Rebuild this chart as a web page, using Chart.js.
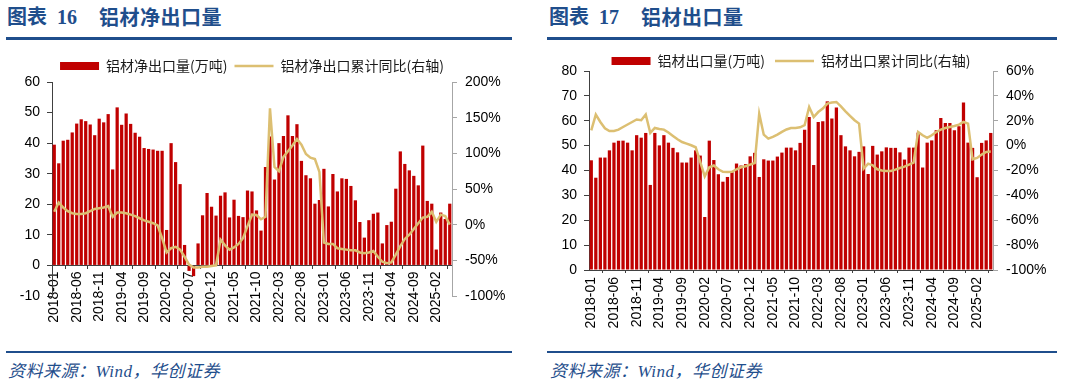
<!DOCTYPE html>
<html lang="zh-CN">
<head>
<meta charset="utf-8">
<title>铝材净出口量 / 铝材出口量</title>
<script src="https://cdn.jsdelivr.net/npm/chart.js@4.4.1/dist/chart.umd.min.js"></script>
<style>
  html, body { margin: 0; padding: 0; background: #fff; }
  body { position: relative; width: 1066px; height: 387px; overflow: hidden; }
  .title { position: absolute; top: 5px; height: 24px; font: bold 20px/24px "Liberation Serif", "Noto Sans CJK SC", serif; color: #1F4E8C; white-space: nowrap; }
  .title .name { position: absolute; left: 92px; top: 0; font-family: "Noto Sans CJK SC", sans-serif; letter-spacing: 0.5px; }
  .rule { position: absolute; background: #1F4E8C; }
  .source { position: absolute; top: 362px; font: italic 17px/20px "Liberation Serif", "Noto Sans CJK SC", serif; color: #1F4E8C; letter-spacing: 0.5px; white-space: nowrap; }
  canvas { position: absolute; top: 40px; }
</style>
</head>
<body>

<div class="title" style="left:7px">图表&nbsp;&nbsp;16<span class="name">铝材净出口量</span></div>
<div class="rule" style="left:6px; width:506px; top:37px; height:3px"></div>
<canvas id="netChart" width="533" height="300" style="left:0"></canvas>
<div class="rule" style="left:6px; width:506px; top:351px; height:2px"></div>
<div class="source" style="left:8px">资料来源：Wind，华创证券</div>

<div class="title" style="left:549px">图表&nbsp;&nbsp;17<span class="name">铝材出口量</span></div>
<div class="rule" style="left:547px; width:510px; top:37px; height:3px"></div>
<canvas id="exportChart" width="533" height="290" style="left:533px"></canvas>
<div class="rule" style="left:547px; width:510px; top:351px; height:2px"></div>
<div class="source" style="left:550px">资料来源：Wind，华创证券</div>

<script>
// Month categories (2018-01 .. 2025-05)
const months = [
  '2018-01','2018-02','2018-03','2018-04','2018-05','2018-06','2018-07','2018-08','2018-09','2018-10','2018-11','2018-12',
  '2019-01','2019-02','2019-03','2019-04','2019-05','2019-06','2019-07','2019-08','2019-09','2019-10','2019-11','2019-12',
  '2020-01','2020-02','2020-03','2020-04','2020-05','2020-06','2020-07','2020-08','2020-09','2020-10','2020-11','2020-12',
  '2021-01','2021-02','2021-03','2021-04','2021-05','2021-06','2021-07','2021-08','2021-09','2021-10','2021-11','2021-12',
  '2022-01','2022-02','2022-03','2022-04','2022-05','2022-06','2022-07','2022-08','2022-09','2022-10','2022-11','2022-12',
  '2023-01','2023-02','2023-03','2023-04','2023-05','2023-06','2023-07','2023-08','2023-09','2023-10','2023-11','2023-12',
  '2024-01','2024-02','2024-03','2024-04','2024-05','2024-06','2024-07','2024-08','2024-09','2024-10','2024-11','2024-12',
  '2025-01','2025-02','2025-03','2025-04','2025-05'
];

// Only these month labels are printed on the x axis
const shownTicks = [
  '2018-01','2018-06','2018-11','2019-04','2019-09','2020-02','2020-07','2020-12','2021-05',
  '2021-10','2022-03','2022-08','2023-01','2023-06','2023-11','2024-04','2024-09','2025-02'
];

// Chart 16: net exports of aluminium products (10k t) and cumulative YoY (%)
const netExport = [
  39.5, 33.4, 40.8, 41.1, 43.5, 46.4, 47.8, 47.2, 46.1, 42.6, 48.0, 46.8,
  49.5, 31.4, 51.7, 46.0, 49.7, 46.3, 43.4, 42.1, 38.4, 38.1, 37.9, 37.5,
  37.5, 11.6, 40.0, 33.8, 26.6, 6.7, -1.8, -3.5, 7.2, 16.4, 23.7, 19.2,
  16.3, 22.8, 23.9, 15.7, 21.5, 16.2, 15.8, 24.5, 24.2, 18.0, 11.4, 32.2,
  42.2, 28.1, 40.0, 42.3, 49.1, 42.3, 46.2, 34.2, 29.5, 28.5, 20.2, 21.4,
  31.6, 19.3, 29.9, 24.2, 28.5, 28.3, 26.0, 21.3, 14.2, 9.1, 14.8, 16.9,
  17.3, 7.2, 13.2, 14.3, 25.1, 37.3, 33.2, 31.1, 29.3, 26.2, 39.2, 21.1,
  20.2, 5.2, 17.3, 15.2, 20.2
];
const netExportYoY = [
  18, 31, 24, 19, 16, 15, 15, 16, 19, 22, 23, 24,
  26, 11, 17, 17, 16, 14, 12, 9, 6, 4, 2, -1,
  -19, -39, -33, -31, -35, -45, -56, -60, -60, -59, -59, -58,
  -57, -21, -29, -35, -32, -27, -19, -2, 14, 13.5, 7.5, 11,
  163, 81, 75, 95, 103, 111, 120, 112, 99, 94, 92, 74,
  -25, -27, -27, -33, -34, -35, -36, -36, -39, -40, -39, -37,
  -45, -52, -54, -53, -42, -30, -20, -14, -6, 2, 10, 11,
  18, 4, 14, 12, 0
];
const netLeftTicks = [-10, 0, 10, 20, 30, 40, 50, 60];
const netRightTicks = [-100, -50, 0, 50, 100, 150, 200];

// Chart 17: exports of aluminium products (10k t) and cumulative YoY (%)
const exportVol = [
  44.1, 37.1, 45.2, 45.2, 48.1, 51.2, 52.0, 52.0, 51.2, 48.1, 54.2, 53.2,
  55.1, 34.2, 55.1, 50.1, 54.2, 51.2, 49.1, 47.3, 43.2, 43.2, 45.2, 48.1,
  46.0, 21.3, 52.0, 44.2, 38.5, 35.5, 37.4, 39.3, 42.8, 42.0, 42.6, 45.7,
  47.1, 37.4, 44.5, 44.0, 44.0, 45.6, 47.2, 49.2, 49.2, 48.1, 51.1, 56.4,
  61.5, 42.2, 59.5, 59.8, 67.8, 60.9, 65.3, 54.2, 49.7, 48.1, 45.7, 47.5,
  49.7, 38.6, 49.9, 46.4, 47.7, 49.3, 49.1, 49.1, 47.3, 44.4, 49.2, 49.2,
  55.2, 41.2, 51.2, 52.1, 56.2, 61.1, 59.1, 59.1, 56.2, 57.8, 67.3, 51.2,
  49.1, 37.3, 51.1, 52.1, 55.1
];
const exportYoY = [
  12.3, 25, 19, 14, 11.8, 11.8, 12.9, 15, 17, 19, 21, 20.4,
  25, 10.2, 14.2, 13.4, 12.9, 10.5, 7.8, 5.1, 2.9, 1.6, 0.3, -1.3,
  -13, -24.7, -17.4, -16, -19, -21, -21.2, -21, -19, -17.4, -16.6, -15.3,
  -14, 25.7, 8.8, 5.6, 7, 8.8, 11, 13, 14.2, 14.2, 14.7, 16.4,
  31.1, 23, 27, 29.8, 33.8, 34.6, 35.1, 31.6, 27.6, 23.9, 20.4, 17.7,
  -18.5, -14.5, -15.8, -19, -20, -20.4, -20.4, -19.3, -18, -16.9, -15.3, -13.7,
  11, 8.3, 6.2, 8.3, 11, 12.9, 14.2, 15, 15.8, 16.9, 19, 17.7,
  -11, -9.9, -7.2, -5.1, -4.8
];
const exportLeftTicks = [0, 10, 20, 30, 40, 50, 60, 70, 80];
const exportRightTicks = [-100, -80, -60, -40, -20, 0, 20, 40, 60];

const RED = '#C00000';
const GOLD = '#DCBF72';
const AXIS_DARK = '#404040';
const AXIS_GREY = '#A6A6A6';

Chart.defaults.font.family = 'Liberation Sans';
Chart.defaults.color = '#000';

const tickFont = { family: 'Liberation Sans', size: 14 };

/**
 * Build a value axis from a list of tick values
 */
function valueAxis(ticks, side, width, color, suffix) {
  return {
    position: side,
    min: ticks[0],
    max: ticks[ticks.length - 1],
    border: { color: color, width: 1 },
    grid: { drawOnChartArea: false, drawTicks: true, tickLength: 5, color: color },
    ticks: {
      stepSize: ticks[1] - ticks[0],
      padding: side === 'left' ? 7 : 8,
      color: '#000',
      font: tickFont,
      callback: (v) => v + suffix
    },
    afterFit: (scale) => {
      scale.width = width;
      scale.paddingTop = 0;
      scale.paddingBottom = 0;
    }
  };
}

/**
 * Month axis: every month gets a slot, only every fifth month is labelled
 */
function monthAxis(position, tickPadding, fixedHeight) {
  const axis = {
    type: 'category',
    position: position,
    offset: true,
    border: { color: AXIS_DARK, width: 1 },
    grid: { offset: true, drawOnChartArea: false, drawTicks: true, tickLength: 3, color: AXIS_DARK },
    ticks: {
      autoSkip: false,
      minRotation: 90,
      maxRotation: 90,
      padding: tickPadding,
      color: '#000',
      font: tickFont,
      callback: function(value) {
        const label = this.getLabelForValue(value);
        return shownTicks.includes(label) ? label : null;
      }
    }
  };
  if (fixedHeight) {
    axis.afterFit = (scale) => { scale.height = fixedHeight; };
  }
  return axis;
}

/**
 * Bar + line combo chart with left and right value axes
 */
function makeChart(canvasId, cfg) {
  return new Chart(document.getElementById(canvasId), {
    type: 'bar',
    data: {
      labels: months,
      datasets: [
        {
          label: cfg.barLabel,
          data: cfg.barData,
          backgroundColor: RED,
          borderWidth: 0,
          categoryPercentage: 1,
          barPercentage: 0.72,
          order: 2,
          yAxisID: 'y'
        },
        {
          type: 'line',
          label: cfg.lineLabel,
          data: cfg.lineData,
          borderColor: GOLD,
          backgroundColor: GOLD,
          borderWidth: 2.5,
          pointRadius: 0,
          pointHoverRadius: 0,
          tension: 0,
          order: 1,
          yAxisID: 'y1'
        }
      ]
    },
    options: {
      responsive: false,
      animation: false,
      devicePixelRatio: 1,
      layout: { padding: cfg.padding },
      plugins: {
        legend: {
          position: 'top',
          fullSize: false,
          maxHeight: cfg.legendHeight,
          labels: {
            usePointStyle: true,
            pointStyleWidth: 39,
            boxHeight: 8,
            padding: cfg.legendGap,
            color: '#1a1a1a',
            font: { family: 'Noto Sans CJK SC', size: 14 },
            sort: (a, b) => a.datasetIndex - b.datasetIndex,
            generateLabels: (chart) => {
              const items = Chart.defaults.plugins.legend.labels.generateLabels(chart);
              items.forEach(item => {
                item.pointStyle = item.datasetIndex === 0 ? 'rect' : 'line';
              });
              return items;
            }
          }
        },
        tooltip: { enabled: false }
      },
      scales: {
        x: cfg.xAxis,
        y: valueAxis(cfg.leftTicks, 'left', cfg.leftWidth, AXIS_DARK, ''),
        y1: valueAxis(cfg.rightTicks, 'right', cfg.rightWidth, AXIS_GREY, '%')
      }
    }
  });
}

// Chart 16: month axis sits on the zero line
makeChart('netChart', {
  barLabel: '铝材净出口量(万吨)',
  lineLabel: '铝材净出口累计同比(右轴)',
  barData: netExport,
  lineData: netExportYoY,
  leftTicks: netLeftTicks,
  rightTicks: netRightTicks,
  leftWidth: 52,
  rightWidth: 81,
  legendGap: 7,
  legendHeight: 30,
  padding: { top: 12, bottom: 44, left: 0, right: 0 },
  xAxis: monthAxis({ y: 0 }, 3)
});

// Chart 17: month axis at the bottom
makeChart('exportChart', {
  barLabel: '铝材出口量(万吨)',
  lineLabel: '铝材出口累计同比(右轴)',
  barData: exportVol,
  lineData: exportYoY,
  leftTicks: exportLeftTicks,
  rightTicks: exportRightTicks,
  leftWidth: 56,
  rightWidth: 73,
  legendGap: 10,
  legendHeight: 27,
  padding: { top: 4, bottom: 0, left: 0, right: 0 },
  xAxis: monthAxis('bottom', 4, 60)
});
</script>
</body>
</html>
